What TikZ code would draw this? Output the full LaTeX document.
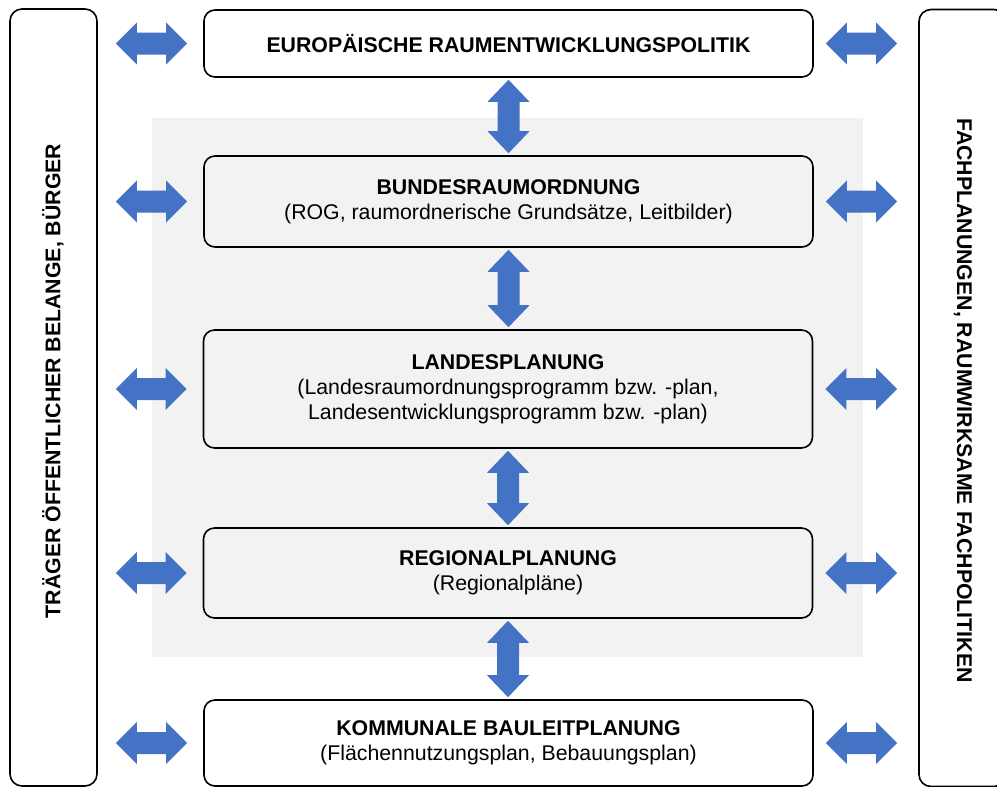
\documentclass[tikz,border=0pt]{standalone}
\usepackage{fontspec}
\setmainfont{Liberation Sans}
\usetikzlibrary{calc}
\definecolor{arrowblue}{HTML}{4472C4}
\definecolor{bggray}{HTML}{F2F2F2}
\newcommand\harrow[2]{\fill[arrowblue] let \p1=#1, \p2=#2 in
  (\x1,\y1) -- (\x1+21pt,\y1+21pt) -- (\x1+21pt,\y1+11pt) -- (\x2-21pt,\y1+11pt) -- (\x2-21pt,\y1+21pt) -- (\x2,\y1)
  -- (\x2-21pt,\y1-21pt) -- (\x2-21pt,\y1-11pt) -- (\x1+21pt,\y1-11pt) -- (\x1+21pt,\y1-21pt) -- cycle;}
\newcommand\varrow[2]{\fill[arrowblue] let \p1=(#1.south), \p2=(#2.north) in
  (\x1,\y1-2pt) -- (\x1+21pt,\y1-24pt) -- (\x1+11pt,\y1-24pt) -- (\x1+11pt,\y2+24pt) -- (\x1+21pt,\y2+24pt) -- (\x1,\y2+2pt)
  -- (\x1-21pt,\y2+24pt) -- (\x1-11pt,\y2+24pt) -- (\x1-11pt,\y1-24pt) -- (\x1-21pt,\y1-24pt) -- cycle;}
\begin{document}
\begin{tikzpicture}[x=1pt,y=-1pt,
  box/.style={draw=black, line width=1.6pt, rounded corners=11pt, minimum width=609pt, align=center, inner sep=0pt,
    font=\fontsize{21.3}{25}\selectfont},
  sidebox/.style={draw=black, line width=1.6pt, rounded corners=12pt, minimum width=87pt, minimum height=777pt, inner sep=0pt},
  sidetext/.style={font=\fontsize{21.3}{25}\selectfont\bfseries, inner sep=0pt}
  ]
\useasboundingbox (0,0) rectangle (997,787);
\fill[bggray] (152,118) rectangle (863,657);
\node[sidebox] (lft) at (53.5,397.5) {};
\node[sidebox] (rgt) at (962.5,398) {};
\node[sidetext, rotate=90] (lt) at (53,381) {TRÄGER ÖFFENTLICHER BELANGE, BÜRGER};
\node[sidetext, rotate=-90] (rt) at (963,400.5) {FACHPLANUNGEN, RAUMWIRKSAME FACHPOLITIKEN};
\node[box, fill=white, minimum height=67pt] (eu) at (508.5,43.5) {\textbf{EUROPÄISCHE RAUMENTWICKLUNGSPOLITIK}};
\node[box, fill=bggray, minimum height=91pt] (bund) at (508.5,201.5) {\textbf{BUNDESRAUMORDNUNG}\\(ROG, raumordnerische Grundsätze, Leitbilder)};
\node[box, fill=bggray, minimum height=118pt] (land) at (508,389) {\textbf{LANDESPLANUNG}\\(Landesraumordnungsprogramm bzw. -plan,\\Landesentwicklungsprogramm bzw. -plan)};
\node[box, fill=bggray, minimum height=90pt] (reg) at (508,573) {\textbf{REGIONALPLANUNG}\\(Regionalpläne)};
\node[box, fill=white, minimum height=86pt] (kom) at (508.5,743) {\textbf{KOMMUNALE BAULEITPLANUNG}\\(Flächennutzungsplan, Bebauungsplan)};
\foreach \nm in {eu,bund,land,reg,kom}{
  \harrow{($(lft.east |- \nm.west)+(18pt,0)$)}{($(\nm.west)+(-16pt,0)$)}
  \harrow{($(\nm.east)+(12pt,0)$)}{($(rgt.west |- \nm.east)+(-21pt,0)$)}
}
\varrow{eu}{bund}
\varrow{bund}{land}
\varrow{land}{reg}
\varrow{reg}{kom}
\end{tikzpicture}
\end{document}
